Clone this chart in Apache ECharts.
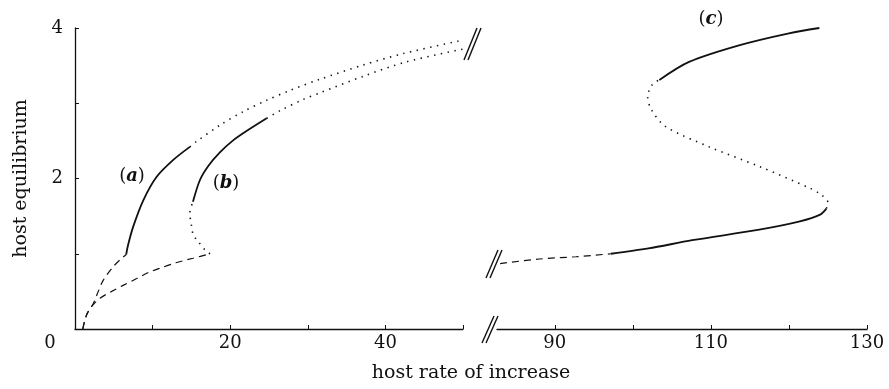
<!DOCTYPE html>
<html>
<head>
<meta charset="utf-8">
<style>
  html, body { margin: 0; padding: 0; background: #fff; }
  #chart { width: 889px; height: 389px; }
</style>
<script src="https://cdn.jsdelivr.net/npm/echarts@6/dist/echarts.min.js"></script>
</head>
<body>
<div id="chart"></div>
<script>
// Host equilibrium against host rate of increase, three parameter sets (a), (b), (c).
// Solid = stable branch, dashed = lower branch, dotted = unstable branch.

const yLabels = [2, 4];
const leftXLabels = [0, 20, 40];
const rightXTicks = [90, 100, 110, 120, 130];
const rightXLabels = [90, 110, 130];

// curve (a)
const aDashed = [[1, 0], [1.5, 0.19], [2.36, 0.34], [3.0, 0.5], [3.65, 0.65], [4.94, 0.83], [5.8, 0.92], [6.6, 0.99]];
const aSolid = [[6.6, 0.99], [6.8, 1.1], [7.5, 1.36], [8.8, 1.71], [10.5, 2.02], [12.7, 2.25], [14.8, 2.42]];
const aDotted = [[14.8, 2.42], [15.5, 2.48], [18.7, 2.71], [21.7, 2.89], [24.7, 3.04], [27.7, 3.17], [31.6, 3.32], [37.2, 3.51], [42.3, 3.66], [49.6, 3.83]];

// curve (b)
const bDashed = [[1, 0], [1.5, 0.19], [2.15, 0.3], [3.22, 0.41], [4.73, 0.5], [6.2, 0.58], [7.95, 0.67], [9.45, 0.75], [11, 0.81], [13, 0.88], [15.2, 0.94], [17.4, 1.0]];
const bDottedLow = [[17.4, 1.0], [16.75, 1.05], [15.9, 1.16], [15.25, 1.25], [15.0, 1.38], [14.8, 1.54], [15.2, 1.69]];
const bSolid = [[15.2, 1.69], [16.1, 1.98], [17.2, 2.17], [18.7, 2.35], [20.3, 2.5], [22.1, 2.63], [24.7, 2.8]];
const bDottedHigh = [[24.7, 2.8], [26.4, 2.9], [29.4, 3.05], [31.6, 3.14], [37.2, 3.36], [42.7, 3.55], [50, 3.72]];

// curve (c)
const cDashed = [[83.0, 0.87], [88, 0.93], [92.7, 0.96], [97.2, 1.0]];
const cSolidLow = [[97.2, 1.0], [102, 1.07], [107.6, 1.18], [116.2, 1.32], [121.4, 1.43], [124, 1.52], [124.8, 1.6]];
const cDotted = [[124.8, 1.6], [125.0, 1.68], [124.2, 1.78], [122.7, 1.87], [116.2, 2.16], [109.8, 2.42], [104.2, 2.69], [102.4, 2.91], [101.9, 3.09], [102.5, 3.25], [103.4, 3.31]];
const cSolidHigh = [[103.4, 3.31], [107.2, 3.55], [113.6, 3.77], [120, 3.93], [123.9, 4.0]];

const ink = '#111';
const serif = '"DejaVu Serif", "Liberation Serif", serif';

const solidStyle = { color: ink, width: 1.8, type: 'solid' };
const dashedStyle = { color: ink, width: 1.2, type: [7, 5] };
const dottedStyle = { color: ink, width: 1.6, type: [1.4, 5.5] };

function seg(data, style, side) {
  return {
    type: 'line',
    xAxisIndex: side,
    yAxisIndex: side,
    data: data,
    showSymbol: false,
    smooth: 0.3,
    lineStyle: style,
    silent: true,
    animation: false
  };
}

const chart = echarts.init(document.getElementById('chart'), null, { renderer: 'canvas' });

const tickLabelStyle = { color: ink, fontFamily: serif, fontSize: 18 };
const curveLabelRich = { i: { fontStyle: 'italic', fontWeight: 'bold', fontFamily: serif, fontSize: 18, fill: ink } };

chart.setOption({
  backgroundColor: '#fff',
  animation: false,
  grid: [
    { left: 75, top: 28, width: 388, height: 301 },
    { left: 497, top: 28, width: 370, height: 301 }
  ],
  xAxis: [
    {
      gridIndex: 0, type: 'value', min: 0, max: 50, interval: 10,
      splitLine: { show: false },
      axisLine: { lineStyle: { color: ink, width: 1.3 } },
      axisTick: { inside: true, length: 4, lineStyle: { color: ink } },
      axisLabel: {
        ...tickLabelStyle, margin: 5,
        formatter: v => v === 0 ? '{z|0}' : (leftXLabels.includes(v) ? String(v) : ''),
        rich: { z: { ...tickLabelStyle, padding: [0, 50, 0, 0] } }
      }
    },
    {
      gridIndex: 1, type: 'value', min: 82.6, max: 130,
      splitLine: { show: false },
      axisLine: { lineStyle: { color: ink, width: 1.3 } },
      axisTick: { inside: true, length: 4, lineStyle: { color: ink }, customValues: rightXTicks },
      axisLabel: { ...tickLabelStyle, margin: 5, customValues: rightXLabels }
    }
  ],
  yAxis: [
    {
      gridIndex: 0, type: 'value', min: 0, max: 4, interval: 1,
      splitLine: { show: false },
      axisLine: { lineStyle: { color: ink, width: 1.3 } },
      axisTick: { inside: true, length: 4, lineStyle: { color: ink } },
      axisLabel: { ...tickLabelStyle, margin: 12, formatter: v => yLabels.includes(v) ? String(v) : '' },
      name: 'host equilibrium',
      nameLocation: 'middle',
      nameGap: 44,
      nameTextStyle: { color: ink, fontFamily: serif, fontSize: 19 }
    },
    {
      gridIndex: 1, type: 'value', min: 0, max: 4, show: false
    }
  ],
  series: [
    seg(aDashed, dashedStyle, 0),
    seg(aSolid, solidStyle, 0),
    seg(aDotted, dottedStyle, 0),
    seg(bDashed, dashedStyle, 0),
    seg(bDottedLow, dottedStyle, 0),
    seg(bSolid, solidStyle, 0),
    seg(bDottedHigh, dottedStyle, 0),
    seg(cDashed, dashedStyle, 1),
    seg(cSolidLow, solidStyle, 1),
    seg(cDotted, dottedStyle, 1),
    seg(cSolidHigh, solidStyle, 1)
  ],
  graphic: [
    // axis title shared by both panels
    { type: 'text', x: 471, y: 364, style: { text: 'host rate of increase', fill: ink, font: '19px ' + serif, align: 'center' } },
    // curve labels
    { type: 'text', x: 132, y: 167, style: { text: '({i|a})', fill: ink, font: '18px ' + serif, align: 'center', rich: curveLabelRich } },
    { type: 'text', x: 226, y: 174, style: { text: '({i|b})', fill: ink, font: '18px ' + serif, align: 'center', rich: curveLabelRich } },
    { type: 'text', x: 711, y: 10, style: { text: '({i|c})', fill: ink, font: '18px ' + serif, align: 'center', rich: curveLabelRich } },
    // break marks
    { type: 'line', shape: { x1: 464, y1: 60, x2: 477, y2: 28 }, style: { stroke: ink, lineWidth: 1.4 } },
    { type: 'line', shape: { x1: 468, y1: 60, x2: 481, y2: 28 }, style: { stroke: ink, lineWidth: 1.4 } },
    { type: 'line', shape: { x1: 486, y1: 278, x2: 498, y2: 250 }, style: { stroke: ink, lineWidth: 1.4 } },
    { type: 'line', shape: { x1: 490, y1: 278, x2: 502, y2: 250 }, style: { stroke: ink, lineWidth: 1.4 } },
    { type: 'line', shape: { x1: 482, y1: 343, x2: 494, y2: 316 }, style: { stroke: ink, lineWidth: 1.4 } },
    { type: 'line', shape: { x1: 486, y1: 343, x2: 498, y2: 316 }, style: { stroke: ink, lineWidth: 1.4 } }
  ]
});
</script>
</body>
</html>
